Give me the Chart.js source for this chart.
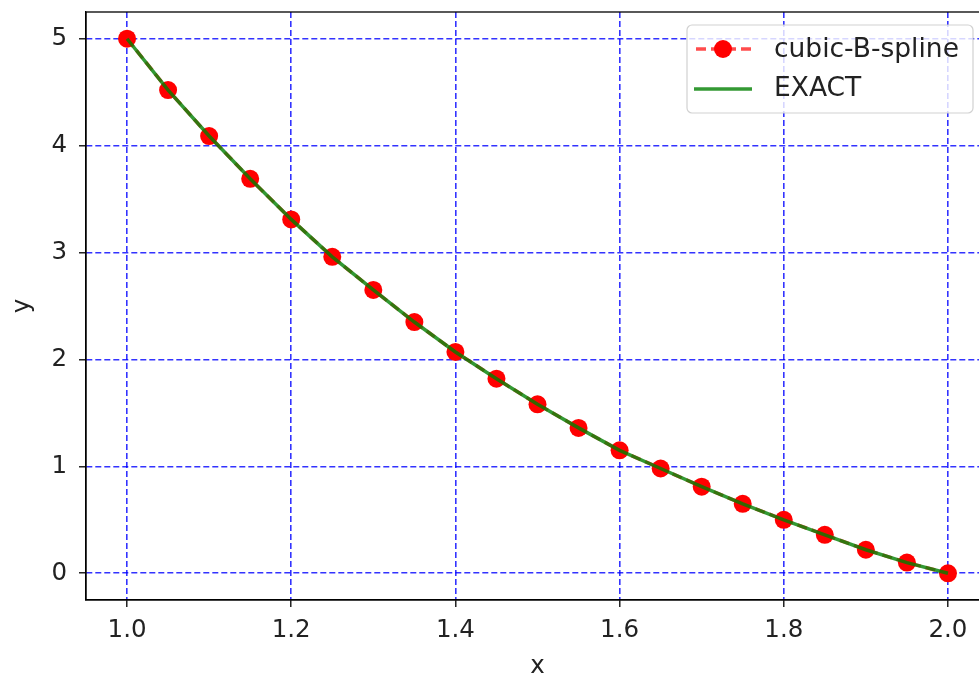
<!DOCTYPE html>
<html lang="en">
<head>
<meta charset="utf-8">
<title>cubic-B-spline vs exact</title>
<script src="https://cdn.jsdelivr.net/npm/chart.js@4.4.0/dist/chart.umd.min.js"></script>
<style>
  html, body { margin: 0; padding: 0; background: #fff; overflow: hidden; }
  #wrap { width: 979px; height: 682px; overflow: hidden; }
</style>
</head>
<body>
<div id="wrap"><canvas id="c" width="998" height="682"></canvas></div>
<script>
// values
var xs = [1.0, 1.05, 1.1, 1.15, 1.2, 1.25, 1.3, 1.35, 1.4, 1.45, 1.5,
          1.55, 1.6, 1.65, 1.7, 1.75, 1.8, 1.85, 1.9, 1.95, 2.0];
var splineY = [5.0, 4.52, 4.09, 3.69, 3.31, 2.96, 2.65, 2.35, 2.07, 1.82, 1.58,
               1.36, 1.15, 0.98, 0.81, 0.65, 0.50, 0.36, 0.22, 0.10, 0.0];
var exactY = [5.0, 4.52, 4.09, 3.69, 3.31, 2.96, 2.65, 2.35, 2.07, 1.82, 1.58,
              1.36, 1.15, 0.98, 0.81, 0.65, 0.50, 0.36, 0.22, 0.10, 0.0];
var xTicks = [1.0, 1.2, 1.4, 1.6, 1.8, 2.0];
var xTickLabels = ['1.0', '1.2', '1.4', '1.6', '1.8', '2.0'];
var yTicks = [0, 1, 2, 3, 4, 5];
var yTickLabels = ['0', '1', '2', '3', '4', '5'];
var seriesNames = ['cubic-B-spline', 'EXACT'];

var FONT = "'DejaVu Sans', sans-serif";
var RED_LINE = 'rgba(255,0,0,0.7)';
var GREEN = 'rgba(0,128,0,0.8)';

function pts(ys) {
  return xs.map(function (x, i) { return { x: x, y: ys[i] }; });
}

// frame around the plot area (matplotlib spines)
var framePlugin = {
  id: 'frame',
  beforeDatasetsDraw: function (chart) {
    var a = chart.chartArea, ctx = chart.ctx;
    ctx.save();
    ctx.strokeStyle = '#000';
    ctx.lineWidth = 1.3;
    ctx.strokeRect(a.left, a.top, a.right - a.left, a.bottom - a.top);
    ctx.restore();
  }
};

// legend box inside the axes, upper right
var legendPlugin = {
  id: 'mplLegend',
  afterDraw: function (chart) {
    var ctx = chart.ctx;
    var bx = 687, by = 25, bw = 286, bh = 88, r = 5;
    ctx.save();
    ctx.beginPath();
    ctx.moveTo(bx + r, by);
    ctx.arcTo(bx + bw, by, bx + bw, by + bh, r);
    ctx.arcTo(bx + bw, by + bh, bx, by + bh, r);
    ctx.arcTo(bx, by + bh, bx, by, r);
    ctx.arcTo(bx, by, bx + bw, by, r);
    ctx.closePath();
    ctx.fillStyle = 'rgba(255,255,255,0.8)';
    ctx.fill();
    ctx.strokeStyle = 'rgba(204,204,204,0.9)';
    ctx.lineWidth = 1.2;
    ctx.stroke();

    // row 1: red dashed line with a dot
    var y1 = 49, y2 = 89;
    ctx.strokeStyle = RED_LINE;
    ctx.lineWidth = 3.5;
    ctx.setLineDash([10, 5]);
    ctx.beginPath(); ctx.moveTo(696, y1); ctx.lineTo(751, y1); ctx.stroke();
    ctx.setLineDash([]);
    ctx.fillStyle = 'red';
    ctx.beginPath(); ctx.arc(723, y1, 9, 0, Math.PI * 2); ctx.fill();

    // row 2: green solid line
    ctx.strokeStyle = GREEN;
    ctx.lineWidth = 3.5;
    ctx.beginPath(); ctx.moveTo(694, y2); ctx.lineTo(752, y2); ctx.stroke();

    ctx.fillStyle = '#222';
    ctx.font = '26.5px ' + FONT;
    ctx.textBaseline = 'middle';
    ctx.textAlign = 'left';
    ctx.fillText(seriesNames[0], 774, y1 + 1);
    ctx.fillText(seriesNames[1], 774, y2);
    ctx.restore();
  }
};

function noPad(s) {
  s.paddingTop = 0; s.paddingBottom = 0; s.paddingLeft = 0; s.paddingRight = 0;
}

var ctx = document.getElementById('c').getContext('2d');
var chart = new Chart(ctx, {
  type: 'line',
  data: {
    datasets: [{
      label: seriesNames[1],
      data: pts(exactY),
      borderColor: GREEN,
      borderWidth: 3.5,
      pointRadius: 0,
      tension: 0,
      fill: false,
      order: 0
    }, {
      label: seriesNames[0],
      data: pts(splineY),
      borderColor: RED_LINE,
      borderWidth: 3.5,
      borderDash: [10, 5],
      pointRadius: 9,
      pointBackgroundColor: 'red',
      pointBorderColor: 'red',
      pointBorderWidth: 0,
      tension: 0,
      fill: false,
      order: 1
    }]
  },
  options: {
    responsive: false,
    animation: false,
    devicePixelRatio: 1,
    layout: { padding: { top: 12, right: 3, left: 0, bottom: 0 } },
    plugins: {
      legend: { display: false },
      tooltip: { enabled: false }
    },
    scales: {
      x: {
        type: 'linear',
        min: 0.95,
        max: 2.05,
        afterBuildTicks: function (s) { s.ticks = xTicks.map(function (v) { return { value: v }; }); },
        afterFit: function (s) { s.height = 82; noPad(s); },
        ticks: {
          autoSkip: false, maxRotation: 0, padding: 9,
          color: '#222', font: { family: FONT, size: 24.5 },
          callback: function (v, i) { return xTickLabels[i]; }
        },
        grid: { color: 'rgba(0,0,255,0.8)', lineWidth: 1.6, tickColor: '#000', tickLength: 7, tickWidth: 1.3 },
        border: { display: true, color: '#000', width: 1.3, dash: [6, 3] },
        title: { display: true, text: 'x', color: '#222', font: { family: FONT, size: 24.5 }, padding: { top: 0, bottom: 1 } }
      },
      y: {
        type: 'linear',
        min: -0.25,
        max: 5.25,
        afterBuildTicks: function (s) { s.ticks = yTicks.map(function (v) { return { value: v }; }); },
        afterFit: function (s) { s.width = 86; noPad(s); },
        ticks: {
          autoSkip: false, padding: 12,
          color: '#222', font: { family: FONT, size: 24.5 },
          callback: function (v, i) { return yTickLabels[i]; }
        },
        grid: { color: 'rgba(0,0,255,0.8)', lineWidth: 1.6, tickColor: '#000', tickLength: 7, tickWidth: 1.3 },
        border: { display: true, color: '#000', width: 1.3, dash: [6, 3] },
        title: { display: true, text: 'y', color: '#222', font: { family: FONT, size: 24.5 }, padding: { top: 8, bottom: 0 } }
      }
    }
  },
  plugins: [framePlugin, legendPlugin]
});
</script>
</body>
</html>
